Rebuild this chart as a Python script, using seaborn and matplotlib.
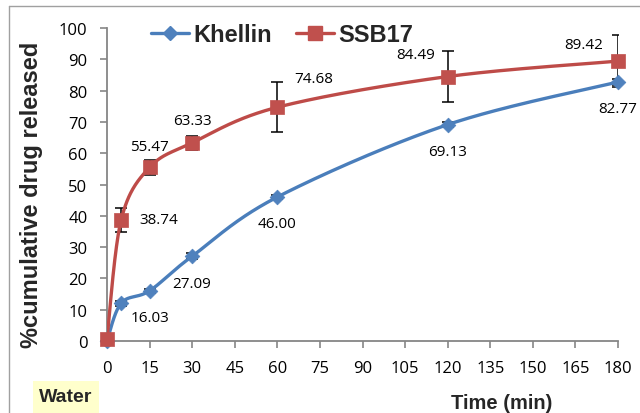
import numpy as np
import pandas as pd
import matplotlib
matplotlib.use("Agg")
import matplotlib.pyplot as plt
from matplotlib.lines import Line2D
from matplotlib.patches import Rectangle
import seaborn as sns

# Release profile data
time_min = [0, 5, 15, 30, 60, 120, 180]
khellin = [0.0, 12.1, 16.03, 27.09, 46.00, 69.13, 82.77]
khellin_err = [0.0, 0.8, 0.6, 0.9, 0.7, 0.8, 0.9]
ssb17 = [0.6, 38.74, 55.47, 63.33, 74.68, 84.49, 89.42]
ssb17_err = [0.0, 3.9, 2.5, 2.3, 8.0, 8.2, 8.3]

x_ticks = list(range(0, 181, 15))
y_ticks = list(range(0, 101, 10))

BLUE_LINE, BLUE_MARK = "#4A7EBB", "#4F81BD"
RED_LINE, RED_MARK = "#BE4B48", "#C0504D"
AXIS_GRAY = "#868686"

sns.set_theme(style="white")
plt.rcParams["font.family"] = ["Open Sans", "DejaVu Sans"]

W, H, DPI = 640, 414, 100
fig = plt.figure(figsize=(W / DPI, H / DPI), dpi=DPI)
ax = fig.add_axes([107 / W, (H - 342) / H, (618 - 107) / W, (342 - 29) / H])
ax.set_xlim(0, 180)
ax.set_ylim(0, 100)


def smooth_curve(xs, ys, sx, sy, n=60):
    """Bezier smoothing through every point, computed in screen-like units."""
    px = np.asarray(xs, float) * sx
    py = np.asarray(ys, float) * sy
    pts = np.column_stack([px, py])
    out = []
    for i in range(len(pts) - 1):
        p0 = pts[i - 1] if i > 0 else pts[i]
        p1, p2 = pts[i], pts[i + 1]
        p3 = pts[i + 2] if i + 2 < len(pts) else pts[i + 1]
        c1 = p1 + (p2 - p0) / 6.0
        c2 = p2 - (p3 - p1) / 6.0
        t = np.linspace(0, 1, n)[:, None]
        seg = ((1 - t) ** 3) * p1 + 3 * ((1 - t) ** 2) * t * c1 + 3 * (1 - t) * t ** 2 * c2 + t ** 3 * p2
        out.append(seg if i == 0 else seg[1:])
    arr = np.vstack(out)
    return arr[:, 0] / sx, arr[:, 1] / sy


sx = (618 - 107) / 180.0
sy = (342 - 29) / 100.0

series = [
    ("Khellin", khellin, khellin_err, BLUE_LINE, BLUE_MARK, "D", 7.5),
    ("SSB17", ssb17, ssb17_err, RED_LINE, RED_MARK, "s", 9.5),
]

for name, vals, errs, lc, mc, mk, ms in series:
    ax.errorbar(time_min, vals, yerr=errs, fmt="none", ecolor="black",
                elinewidth=1.1, capsize=4, capthick=1.1, zorder=2)
    cx, cy = smooth_curve(time_min, vals, sx, sy)
    curve = pd.DataFrame({"t": cx, "v": cy})
    sns.lineplot(data=curve, x="t", y="v", ax=ax, color=lc, linewidth=2.4,
                 sort=False, estimator=None, zorder=3)
    pts = pd.DataFrame({"t": time_min, "v": vals})
    sc = sns.scatterplot(data=pts, x="t", y="v", ax=ax, color=mc, marker=mk,
                         s=ms ** 2, edgecolor=mc, linewidth=0.5, zorder=4)
    ax.collections[-1].set_clip_on(False)

# Value labels (offsets in points)
khellin_offsets = {2: (0, -19.5), 3: (0, -19.5), 4: (0, -19), 5: (0, -19), 6: (0, -19)}
ssb17_offsets = {1: (27, 0), 2: (0, 15), 3: (0, 16), 4: (26, 21), 5: (-23, 16), 6: (-25, 12)}
for idx, (dx, dy) in khellin_offsets.items():
    ax.annotate(f"{khellin[idx]:.2f}", (time_min[idx], khellin[idx]), xytext=(dx, dy),
                textcoords="offset points", ha="center", va="center",
                fontsize=11, color="black", zorder=5)
for idx, (dx, dy) in ssb17_offsets.items():
    ax.annotate(f"{ssb17[idx]:.2f}", (time_min[idx], ssb17[idx]), xytext=(dx, dy),
                textcoords="offset points", ha="center", va="center",
                fontsize=11, color="black", zorder=5)

ax.set_xticks(x_ticks)
ax.set_yticks(y_ticks)
ax.set_xticklabels([str(v) for v in x_ticks])
ax.set_yticklabels([str(v) for v in y_ticks])
ax.tick_params(axis="both", which="major", direction="out", length=5, width=1.2,
               color=AXIS_GRAY, labelsize=12, labelcolor="black", bottom=True, left=True)
ax.tick_params(axis="y", pad=9)
ax.tick_params(axis="x", pad=9)
for side in ["top", "right"]:
    ax.spines[side].set_visible(False)
for side in ["left", "bottom"]:
    ax.spines[side].set_color(AXIS_GRAY)
    ax.spines[side].set_linewidth(1.3)
ax.set_xlabel("")
ax.set_ylabel("")
legend_obj = ax.get_legend()
if legend_obj is not None:
    legend_obj.remove()

bold = ["Liberation Sans", "DejaVu Sans"]
fig.text(32 / W, 1 - 195 / H, "%cumulative drug released", rotation=90,
         ha="center", va="center", fontsize=17, fontweight="bold", family=bold)
fig.text(502 / W, 1 - 404 / H, "Time (min)", ha="center", va="center",
         fontsize=14.5, fontweight="bold", family=bold)

# Medium tag in the lower-left corner
fig.patches.append(Rectangle((33 / W, 0), (99 - 33) / W, (414 - 382) / H,
                             transform=fig.transFigure, facecolor="#FFFFCC",
                             edgecolor="none", zorder=0))
fig.text(66 / W, 1 - 398 / H, "Water", ha="center", va="center",
         fontsize=14, fontweight="bold", family=bold)

# Chart-area frame
fig.add_artist(Line2D([8.5 / W, 8.5 / W], [0, 1 - 7 / H], transform=fig.transFigure,
                      color="#A0A0A0", linewidth=1.0))
fig.add_artist(Line2D([8.5 / W, 1], [1 - 7 / H, 1 - 7 / H], transform=fig.transFigure,
                      color="#A0A0A0", linewidth=1.0))

handles = [
    Line2D([0], [0], color=BLUE_LINE, linewidth=2.4, marker="D", markersize=7.5,
           markerfacecolor=BLUE_MARK, markeredgecolor=BLUE_MARK),
    Line2D([0], [0], color=RED_LINE, linewidth=2.4, marker="s", markersize=9.5,
           markerfacecolor=RED_MARK, markeredgecolor=RED_MARK),
]
fig.legend(handles, ["Khellin", "SSB17"], loc="center left",
           bbox_to_anchor=(130 / W, 1 - 36 / H), ncol=2, frameon=False,
           handlelength=1.6, handletextpad=0.2, columnspacing=1.0,
           prop={"family": bold, "weight": "bold", "size": 17})

fig.savefig("out.png", dpi=DPI)
